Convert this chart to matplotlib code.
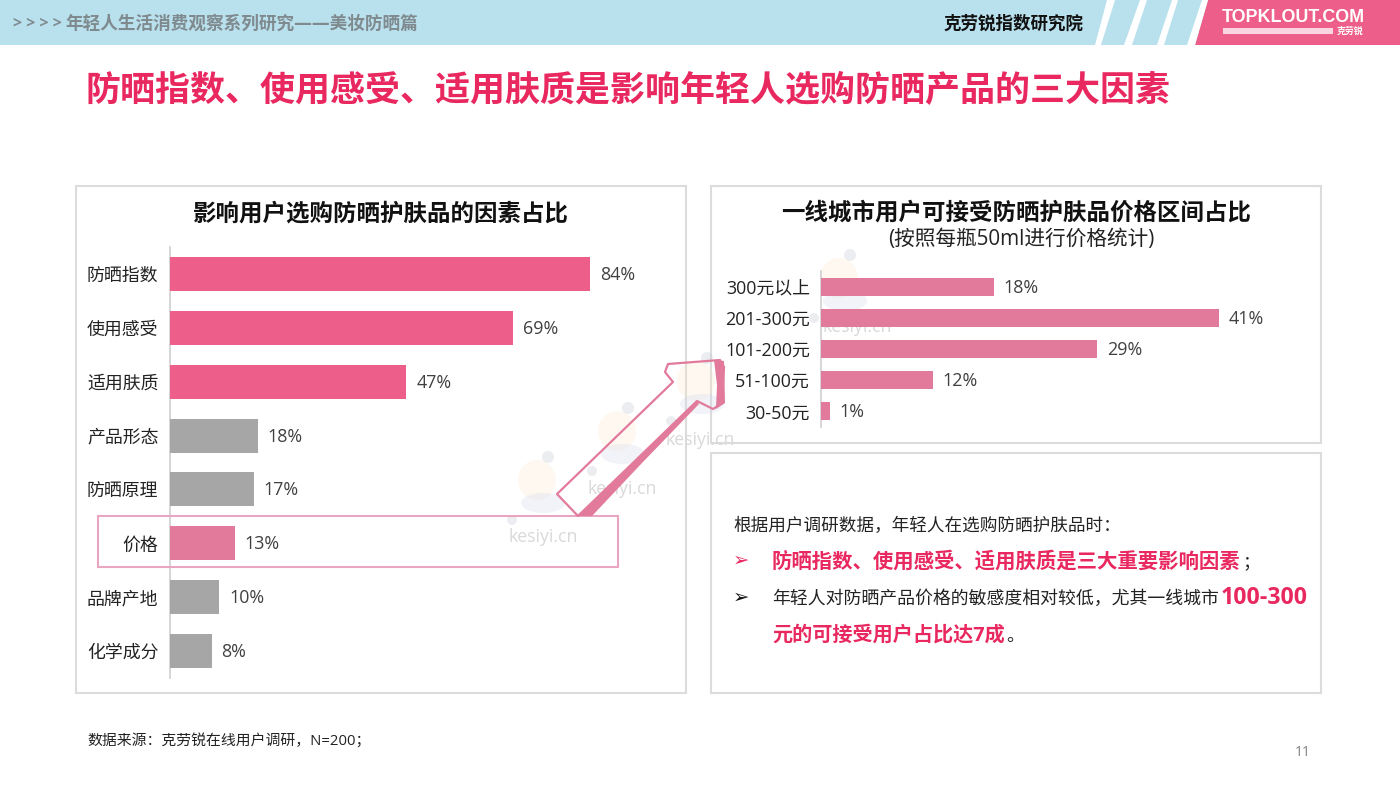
import matplotlib
matplotlib.use("Agg")
import matplotlib.pyplot as plt
from matplotlib.patches import Circle, Ellipse, Polygon, Rectangle

plt.rcParams["font.family"] = ["Open Sans", "Noto Sans CJK SC", "DejaVu Sans"]

W, H = 1400, 788

factor_names = ["防晒指数", "使用感受", "适用肤质", "产品形态", "防晒原理", "价格", "品牌产地", "化学成分"]
factor_labels = ["84%", "69%", "47%", "18%", "17%", "13%", "10%", "8%"]
# bar lengths as measured, the printed labels are rounded
factor_values = [84, 68.7, 47.3, 17.6, 16.8, 13, 9.9, 8.4]
factor_colors = ["#ee5e8a", "#ee5e8a", "#ee5e8a", "#a6a6a6", "#a6a6a6", "#e27a9b", "#a6a6a6", "#a6a6a6"]

price_names = ["300元以上", "201-300元", "101-200元", "51-100元", "30-50元"]
price_labels = ["18%", "41%", "29%", "12%", "1%"]
price_values = [17.8, 41, 28.4, 11.5, 0.9]

PINK = "#e8285f"
BAR_PINK = "#e27a9b"
LINE = "#dcdcdc"
TEXT = "#222222"


def px_axes(fig, left, top, right, bottom):
    return fig.add_axes([left / W, 1 - bottom / H, (right - left) / W, (bottom - top) / H])


def draw_runner(ax, x, y):
    # faint watermark figure, anchored at the head
    ax.add_patch(Ellipse((x - 11, y + 23), 38, 40, color="#fbe3c0", alpha=0.22, lw=0, zorder=1))
    ax.add_patch(Ellipse((x - 5, y + 46), 44, 20, color="#cdd5ea", alpha=0.28, lw=0, zorder=1))
    ax.add_patch(Circle((x, y), 6, color="#c8ccd6", alpha=0.35, lw=0, zorder=1))
    ax.add_patch(Circle((x - 36, y + 63), 5, color="#c8ccd6", alpha=0.35, lw=0, zorder=1))


def draw_bars(ax, names, values, labels, colors, bar_height, label_size, x_per_pct, width):
    pos = range(len(names))
    ax.barh(pos, values, height=bar_height, color=colors, zorder=3)
    ax.set_ylim(len(names) - 0.5, -0.5)
    ax.set_xlim(0, width / x_per_pct)
    ax.set_yticks(list(pos))
    ax.set_yticklabels(names, fontsize=label_size, color=TEXT)
    ax.set_xticks([])
    ax.tick_params(axis="y", length=0, pad=8)
    for side in ["top", "right", "bottom"]:
        ax.spines[side].set_visible(False)
    ax.spines["left"].set_color("#cfcfcf")
    ax.spines["left"].set_linewidth(1.2)
    ax.patch.set_alpha(0)
    for i, (v, lab) in enumerate(zip(values, labels)):
        ax.annotate(lab, (v, i), xytext=(7.2, -0.7), textcoords="offset points", va="center", ha="left",
                    fontsize=label_size, color="#404040", zorder=4)


fig = plt.figure(figsize=(W / 100, H / 100), dpi=100, facecolor="white")

# page overlay in pixel coordinates
bg = fig.add_axes([0, 0, 1, 1])
bg.set_xlim(0, W)
bg.set_ylim(H, 0)
bg.axis("off")

# header band
bg.add_patch(Rectangle((0, 0), W, 45, color="#b9e0ed", lw=0))
bg.add_patch(Polygon([(1195, 45), (1208, 0), (W, 0), (W, 45)], color="#ee5e8a", lw=0))
for x0, x1, x2, x3 in [(1095, 1101, 1115, 1107), (1124, 1132, 1147, 1140),
                       (1157, 1164, 1178, 1172), (1187, 1195, 1208, 1202)]:
    bg.add_patch(Polygon([(x0, 45), (x1, 45), (x2, 0), (x3, 0)], color="white", lw=0))

bg.text(13, 24, "> > > >", fontsize=11.5, fontweight="bold", color="#7f8a8e", va="center", ha="left")
bg.text(65, 24, "年轻人生活消费观察系列研究——美妆防晒篇", fontsize=12.7, fontweight="bold",
        color="#7f8a8e", va="center", ha="left")
bg.text(1014, 23.5, "克劳锐指数研究院", fontsize=12.6, fontweight="bold", color="#111111",
        va="center", ha="center")
bg.text(1293, 17, "TOPKLOUT.COM", fontsize=12.9, fontweight="bold", color="white",
        family="Liberation Sans", va="center", ha="center")
bg.add_patch(Rectangle((1223, 28), 110, 6, color="#f8d5e0", lw=0))
bg.text(1350, 31, "克劳锐", fontsize=6.4, fontweight="bold", color="white", va="center", ha="center")

# main title
bg.text(86, 92.5, "防晒指数、使用感受、适用肤质是影响年轻人选购防晒产品的三大因素", fontsize=25.2,
        fontweight=900, color=PINK, va="center", ha="left")

# cards
for x0, y0, x1, y1 in [(76, 186, 686, 693), (711, 186, 1321, 443), (711, 453, 1321, 693)]:
    bg.add_patch(Rectangle((x0, y0), x1 - x0, y1 - y0, fc="white", ec=LINE, lw=1.5))

# watermarks
for x, y in [(548, 457), (628, 408), (707, 358), (850, 255)]:
    draw_runner(bg, x, y)
for x, y in [(543, 537), (622, 489), (700, 440), (857, 327)]:
    bg.text(x, y, "kesiyi.cn", fontsize=12.8, color="#d9d9d9", va="center", ha="center", zorder=1)

bg.text(381, 214, "影响用户选购防晒护肤品的因素占比", fontsize=16.9, fontweight="bold",
        color="#111111", va="center", ha="center")
bg.text(1016, 214, "一线城市用户可接受防晒护肤品价格区间占比", fontsize=16.9, fontweight="bold",
        color="#111111", va="center", ha="center")
bg.text(1021.5, 239, "(按照每瓶50ml进行价格统计)", fontsize=14.9, color="#222222", va="center", ha="center")

# left and right bar charts
ax_left = px_axes(fig, 169.5, 247, 680, 678)
draw_bars(ax_left, factor_names, factor_values, factor_labels, factor_colors, 0.63, 12.9, 5.006, 510.5)

ax_right = px_axes(fig, 821, 271, 1310, 427)
draw_bars(ax_right, price_names, price_values, price_labels, [BAR_PINK] * 5, 0.58, 12.9, 9.707, 489)

# highlight box and arrow on top of everything
top = fig.add_axes([0, 0, 1, 1])
top.set_xlim(0, W)
top.set_ylim(H, 0)
top.axis("off")
top.patch.set_alpha(0)
top.add_patch(Rectangle((97.5, 516), 520, 51, fc="none", ec="#eaa6c0", lw=1.5))

arrow_outline = [(557, 494), (673, 382), (665, 372), (668, 364), (720, 360), (724, 367),
                 (722, 403), (713, 409), (697, 401), (578, 516)]
top.add_patch(Polygon(arrow_outline, closed=True, fc="none", ec="#e27a9b", lw=1.6, joinstyle="round"))
top.add_patch(Polygon([(578, 516), (697, 401), (699, 404), (642, 463), (592, 516)], color="#e27a9b", lw=0))
top.add_patch(Polygon([(714, 360), (724, 361), (725, 403), (716, 409), (717, 385)], color="#e27a9b", lw=0))

# takeaway text
top.text(733, 526, "根据用户调研数据，年轻人在选购防晒护肤品时：", fontsize=12.7, color=TEXT, va="center")
top.text(733, 560, "➢", fontsize=14, color=PINK, va="center", family="DejaVu Sans")
top.text(772, 562, "防晒指数、使用感受、适用肤质是三大重要影响因素", fontsize=14.7, fontweight="bold",
         color=PINK, va="center")
top.text(1242, 562, "；", fontsize=12.7, color=TEXT, va="center")
top.text(733, 597, "➢", fontsize=14, color="#111111", va="center", family="DejaVu Sans")
top.text(772, 599, "年轻人对防晒产品价格的敏感度相对较低，尤其一线城市", fontsize=12.9, color=TEXT, va="center")
top.text(1221, 598, "100-300", fontsize=16.7, fontweight="bold", color=PINK, va="center")
top.text(772, 636, "元的可接受用户占比达7成", fontsize=14.5, fontweight="bold", color=PINK, va="center")
top.text(1006, 636, "。", fontsize=12.9, color=TEXT, va="center")

# footer
top.text(87, 742, "数据来源：克劳锐在线用户调研，N=200；", fontsize=10.7, color=TEXT, va="center")
top.text(1303, 753, "11", fontsize=10, color="#808080", va="center", ha="center")

fig.savefig("out.png", dpi=100)
